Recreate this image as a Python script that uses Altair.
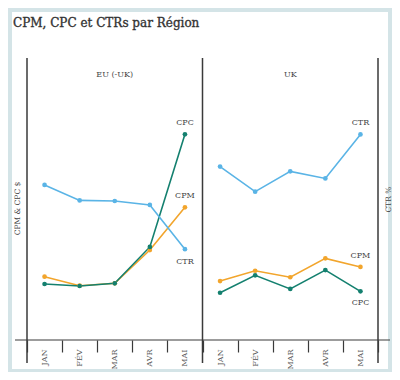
import altair as alt
import pandas as pd

months = ["JAN", "FÉV", "MAR", "AVR", "MAI"]
regions = ["EU", "UK"]
region_titles = {"EU": "EU (-UK)", "UK": "UK"}

# CPM & CPC in $, CTR in %
eu_cpm = [0.449, 0.385, 0.402, 0.638, 0.941]
eu_cpc = [0.397, 0.383, 0.402, 0.660, 1.459]
eu_ctr = [0.550, 0.495, 0.493, 0.479, 0.322]
uk_cpm = [0.418, 0.491, 0.445, 0.579, 0.518]
uk_cpc = [0.335, 0.459, 0.362, 0.496, 0.345]
uk_ctr = [0.615, 0.526, 0.598, 0.573, 0.729]

series = {
    ("EU", "CPM"): eu_cpm, ("EU", "CPC"): eu_cpc, ("EU", "CTR"): eu_ctr,
    ("UK", "CPM"): uk_cpm, ("UK", "CPC"): uk_cpc, ("UK", "CTR"): uk_ctr,
}
keys = [f"{r}|{m}" for r in regions for m in months]

rows = []
for (reg, met), vals in series.items():
    for m, v in zip(months, vals):
        rows.append({"region": reg, "month": m, "key": f"{reg}|{m}", "metric": met, "value": v})
df = pd.DataFrame(rows)

# which end labels sit below their last point
below = {("EU", "CTR"), ("UK", "CPC")}
lab = df[df.month == "MAI"].copy()
lab["below"] = [(r, m) in below for r, m in zip(lab.region, lab.metric)]

W, H = 351, 282
SERIF = "DejaVu Serif"
AX = "#3a3a3a"
colors = alt.Scale(domain=["CTR", "CPM", "CPC"], range=["#5ab4e6", "#f2a52c", "#14806f"])

xenc = alt.X("key:N", scale=alt.Scale(domain=keys, paddingInner=0, paddingOuter=0),
             axis=alt.Axis(title=None, domain=False, tickBand="extent", tickSize=12,
                           tickColor=AX, tickWidth=1.2, labelAngle=270, labelPadding=-3,
                           labelExpr="split(datum.value, '|')[1]", labelFont=SERIF,
                           labelFontSize=8, labelColor="#555555", grid=False, zindex=1))

bg = alt.Chart(alt.Data(values=[{}])).mark_rect(color="white").encode(
    x=alt.value(-15), x2=alt.value(W + 10), y=alt.value(-46), y2=alt.value(H + 29))

vlines = [alt.Chart(alt.Data(values=[{}])).mark_rule(color=AX, strokeWidth=1.5).encode(
    x=alt.value(xv), y=alt.value(0), y2=alt.value(H + 23)) for xv in (0, W / 2, W)]
baseline = alt.Chart(alt.Data(values=[{}])).mark_rule(color=AX, strokeWidth=1.2).encode(
    x=alt.value(-12), x2=alt.value(W + 12), y=alt.value(H))

title = alt.Chart(alt.Data(values=[{"t": "CPM, CPC et CTRs par Région"}])).mark_text(
    font=SERIF, fontSize=12, color="#333333", align="left", baseline="alphabetic",
    fontWeight="normal", stroke="#333333", strokeWidth=0.35).encode(
    x=alt.value(-14), y=alt.value(-31), text="t:N")

panel_df = pd.DataFrame({"key": [f"{r}|MAR" for r in regions],
                         "label": [region_titles[r] for r in regions]})
panels = alt.Chart(panel_df).mark_text(font=SERIF, fontSize=8, color="#444444").encode(
    x=alt.X("key:N"), y=alt.value(17), text="label:N")

usd = alt.Scale(domain=[0, 2])
pct = alt.Scale(domain=[0, 1])

base_d = alt.Chart(df[df.metric != "CTR"])
lines_d = base_d.mark_line(strokeWidth=1.6, point=alt.OverlayMarkDef(size=22, filled=True, opacity=1)).encode(
    x=xenc,
    y=alt.Y("value:Q", scale=usd, axis=alt.Axis(title="CPM & CPC $", labels=False, ticks=False,
            domain=False, grid=False, orient="left", titleFont=SERIF, titleFontSize=7.5,
            titleFontWeight="normal", titleColor="#444444", titlePadding=6, titleY=150,
            zindex=1)),
    color=alt.Color("metric:N", scale=colors, legend=None),
    detail="region:N")
ld = lab[lab.metric != "CTR"]
txt_kw = dict(font=SERIF, fontSize=8, color="#444444")
labels_d_up = alt.Chart(ld[~ld.below]).mark_text(dy=-11, **txt_kw).encode(
    x="key:N", y=alt.Y("value:Q", scale=usd), text="metric:N")
labels_d_dn = alt.Chart(ld[ld.below]).mark_text(dy=12, **txt_kw).encode(
    x="key:N", y=alt.Y("value:Q", scale=usd), text="metric:N")
layer_d = alt.layer(lines_d, labels_d_up, labels_d_dn)

base_p = alt.Chart(df[df.metric == "CTR"])
lines_p = base_p.mark_line(strokeWidth=1.6, point=alt.OverlayMarkDef(size=22, filled=True, opacity=1)).encode(
    x=xenc,
    y=alt.Y("value:Q", scale=pct, axis=alt.Axis(title="CTR %", labels=False, ticks=False,
            domain=False, grid=False, orient="right", titleFont=SERIF, titleFontSize=7.5,
            titleFontWeight="normal", titleColor="#444444", titlePadding=14, titleAngle=270,
            zindex=1)),
    color=alt.Color("metric:N", scale=colors, legend=None),
    detail="region:N")
lp = lab[lab.metric == "CTR"]
labels_p_up = alt.Chart(lp[~lp.below]).mark_text(dy=-11, **txt_kw).encode(
    x="key:N", y=alt.Y("value:Q", scale=pct), text="metric:N")
labels_p_dn = alt.Chart(lp[lp.below]).mark_text(dy=13, **txt_kw).encode(
    x="key:N", y=alt.Y("value:Q", scale=pct), text="metric:N")
layer_p = alt.layer(lines_p, labels_p_up, labels_p_dn)

chart = alt.layer(bg, *vlines, baseline, title, panels, layer_d, layer_p).resolve_scale(
    y="independent"
).properties(
    width=W, height=H,
    autosize=alt.AutoSizeParams(type="none"),
    padding={"left": 19, "top": 50, "right": 14, "bottom": 32},
    background="#d4e4e7",
).configure_view(stroke=None)

chart.save("out.html", embed_options={"renderer": "svg", "actions": False})
